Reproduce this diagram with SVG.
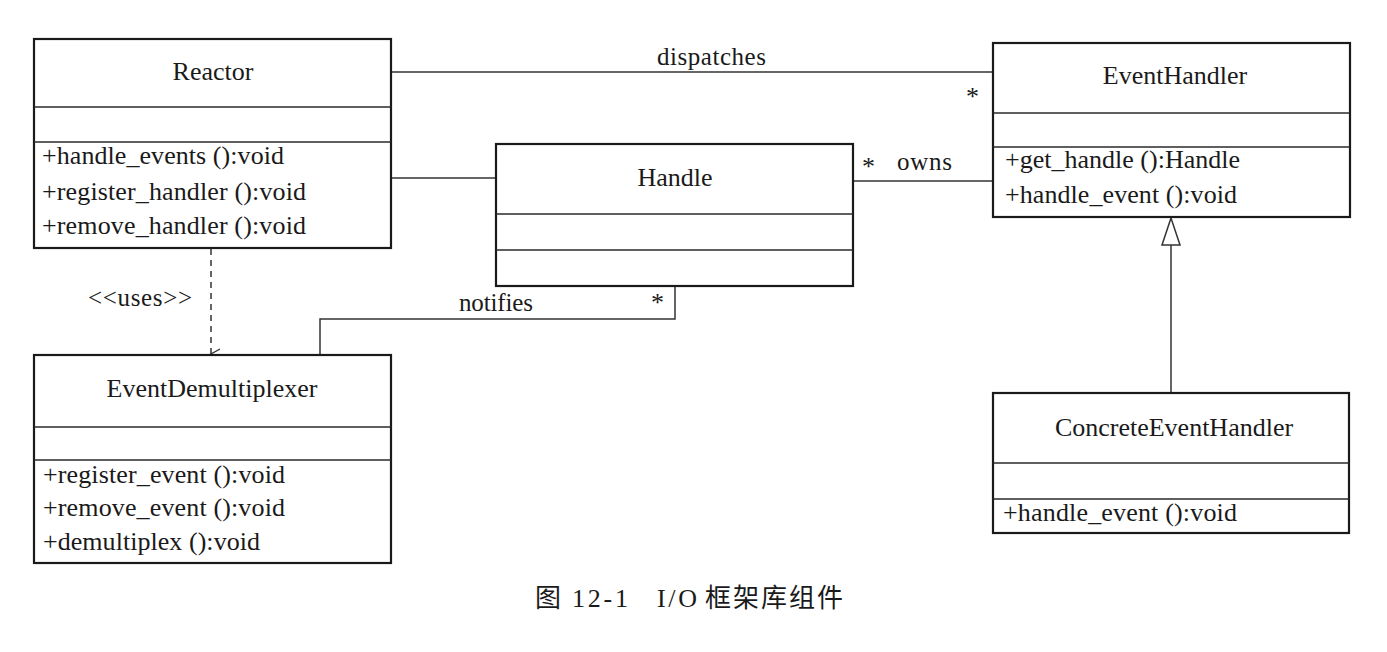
<svg xmlns="http://www.w3.org/2000/svg" width="1387" height="652" viewBox="0 0 1387 652">
<style>
.box{fill:#fff;stroke:#1a1a1a;stroke-width:2.2}
.div{stroke:#2a2a2a;stroke-width:1.6}
.t{font-family:"Liberation Serif","Times New Roman",serif;fill:#1a1a1a}
.title{font-size:26px;text-anchor:middle}
.m{font-size:26px}
.lbl{font-size:25px}
.star{font-size:26px}
.con{fill:none;stroke:#333;stroke-width:1.5}
.cap{font-family:"Liberation Serif","Noto Sans CJK SC",serif;font-size:26px;fill:#1a1a1a}
</style>
<defs>
<marker id="open" markerWidth="14" markerHeight="14" refX="7" refY="12" orient="auto" markerUnits="userSpaceOnUse">
<path d="M2,3 L7,12 L12,3" fill="none" stroke="#333" stroke-width="1.4"/>
</marker>
</defs>
<rect width="1387" height="652" fill="#fff"/>

<g id="connectors">
<line class="con" x1="391" y1="72" x2="993" y2="72"/>
<text class="t lbl" x="657" y="65" textLength="109">dispatches</text>
<text class="t star" x="966" y="105">*</text>
<line class="con" x1="391" y1="178" x2="496" y2="178"/>
<line class="con" x1="853" y1="181" x2="993" y2="181"/>
<text class="t star" x="862" y="175">*</text>
<text class="t lbl" x="897" y="170" textLength="55">owns</text>
<path class="con" d="M320,355 V319 H675 V286"/>
<text class="t lbl" x="459" y="311" textLength="74">notifies</text>
<text class="t star" x="651" y="311">*</text>
<line class="con" x1="211" y1="249" x2="211" y2="354" stroke-dasharray="6,5" marker-end="url(#open)"/>
<text class="t lbl" x="88" y="306" textLength="104">&lt;&lt;uses&gt;&gt;</text>
<line class="con" x1="1171" y1="245" x2="1171" y2="393"/>
<polygon points="1171,218 1162,245 1180,245" fill="#fff" stroke="#333" stroke-width="1.5"/>
</g>

<g id="Reactor">
<rect class="box" x="34" y="39" width="357" height="209"/>
<line class="div" x1="34" y1="107" x2="391" y2="107"/>
<line class="div" x1="34" y1="142" x2="391" y2="142"/>
<text class="t title" x="213" y="80">Reactor</text>
<text class="t m" x="42" y="164" textLength="242">+handle_events ():void</text>
<text class="t m" x="42" y="200" textLength="264">+register_handler ():void</text>
<text class="t m" x="42" y="234" textLength="264">+remove_handler ():void</text>
</g>

<g id="Handle">
<rect class="box" x="496" y="144" width="357" height="142"/>
<line class="div" x1="496" y1="214" x2="853" y2="214"/>
<line class="div" x1="496" y1="250" x2="853" y2="250"/>
<text class="t title" x="675" y="186">Handle</text>
</g>

<g id="EventHandler">
<rect class="box" x="993" y="43" width="357" height="174"/>
<line class="div" x1="993" y1="113" x2="1350" y2="113"/>
<line class="div" x1="993" y1="147" x2="1350" y2="147"/>
<text class="t title" x="1175" y="84">EventHandler</text>
<text class="t m" x="1005" y="168" textLength="235">+get_handle ():Handle</text>
<text class="t m" x="1005" y="203" textLength="232">+handle_event ():void</text>
</g>

<g id="EventDemultiplexer">
<rect class="box" x="34" y="355" width="357" height="208"/>
<line class="div" x1="34" y1="427" x2="391" y2="427"/>
<line class="div" x1="34" y1="460" x2="391" y2="460"/>
<text class="t title" x="212" y="397">EventDemultiplexer</text>
<text class="t m" x="43" y="483" textLength="242">+register_event ():void</text>
<text class="t m" x="43" y="516" textLength="242">+remove_event ():void</text>
<text class="t m" x="43" y="550" textLength="217">+demultiplex ():void</text>
</g>

<g id="ConcreteEventHandler">
<rect class="box" x="993" y="393" width="356" height="140"/>
<line class="div" x1="993" y1="463" x2="1349" y2="463"/>
<line class="div" x1="993" y1="499" x2="1349" y2="499"/>
<text class="t title" x="1174" y="436">ConcreteEventHandler</text>
<text class="t m" x="1003" y="521" textLength="234">+handle_event ():void</text>
</g>

<g id="caption">
<text class="cap" x="535" y="607">图</text>
<text class="cap" x="572" y="607" textLength="56">12-1</text>
<text class="cap" x="657" y="607" textLength="40">I/O</text>
<text class="cap" x="705" y="607" textLength="138">框架库组件</text>
</g>
</svg>
